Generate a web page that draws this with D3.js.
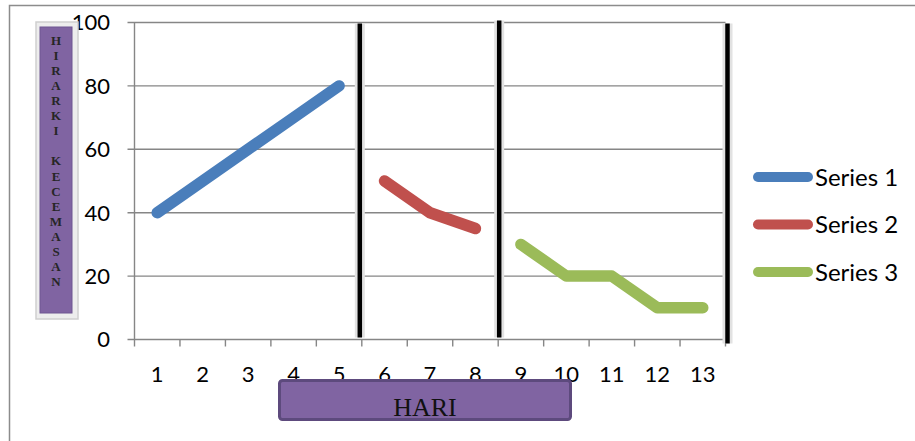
<!DOCTYPE html>
<html>
<head>
<meta charset="utf-8">
<script src="https://cdn.jsdelivr.net/npm/d3@7"></script>
<style>
  html, body { margin: 0; padding: 0; background: #fff; }
  svg { display: block; }
</style>
</head>
<body>
<svg id="chart" width="915" height="441"></svg>
<script>
// Days on the horizontal axis
const categories = ["1","2","3","4","5","6","7","8","9","10","11","12","13"];
// Anxiety hierarchy per phase (each series covers its own days)
const series1 = [ {day:"1",v:40},{day:"2",v:50},{day:"3",v:60},{day:"4",v:70},{day:"5",v:80} ];
const series2 = [ {day:"6",v:50},{day:"7",v:40},{day:"8",v:35} ];
const series3 = [ {day:"9",v:30},{day:"10",v:20},{day:"11",v:20},{day:"12",v:10},{day:"13",v:10} ];
const seriesNames = ["Series 1","Series 2","Series 3"];
const yTicks = [0,20,40,60,80,100];
// Phase separators sit after these days
const phaseEnds = ["5","8","13"];
const yTitle = "HIRARKI KECEMASAN";
const xTitle = "HARI";

const colors = ["#4A7EBB","#C0504D","#9BBB59"];
const svg = d3.select("#chart");

const plot = {left: 134.5, right: 725.5, top: 22.5, bottom: 339.5};
const x = d3.scaleBand().domain(categories).range([plot.left, plot.right]).padding(0);
const y = d3.scaleLinear().domain([0,100]).range([plot.bottom, plot.top]);
const cx = d => x(d) + x.bandwidth()/2;

// outer frame (left and top edges)
svg.append("path").attr("d","M9.5,441V5.5H915")
  .attr("fill","none").attr("stroke","#8c8c8c").attr("stroke-width",1.5);

// gridlines + y ticks
const gridG = svg.append("g");
yTicks.forEach(t => {
  gridG.append("line")
    .attr("x1", plot.left - 7).attr("x2", plot.right)
    .attr("y1", y(t)).attr("y2", y(t))
    .attr("stroke","#868686").attr("stroke-width",1.4);
});
// y axis line
gridG.append("line").attr("x1",plot.left).attr("x2",plot.left)
  .attr("y1",plot.top).attr("y2",plot.bottom)
  .attr("stroke","#868686").attr("stroke-width",1.4);
// x tick marks at category boundaries
const bounds = categories.map(c => x(c)).concat([x(categories[categories.length-1]) + x.bandwidth()]);
bounds.forEach(b => {
  gridG.append("line").attr("x1",b).attr("x2",b)
    .attr("y1",plot.bottom).attr("y2",plot.bottom + 7)
    .attr("stroke","#868686").attr("stroke-width",1.4);
});

// y tick labels
svg.append("g").selectAll("text").data(yTicks).join("text")
  .attr("x",110).attr("y",d => y(d)).attr("dy","0.36em")
  .attr("text-anchor","end")
  .attr("font-family","Lato, 'Open Sans', sans-serif").attr("font-size",22)
  .attr("fill","#000").text(d => d);

// x tick labels
svg.append("g").selectAll("text").data(categories).join("text")
  .attr("x",d => cx(d)).attr("y",382)
  .attr("text-anchor","middle")
  .attr("font-family","Lato, 'Open Sans', sans-serif").attr("font-size",22)
  .attr("fill","#000").text(d => d);

// phase separators (hand-drawn look: each one sits a little off the boundary)
const sepG = svg.append("g");
const sepNudge = [-2, 1, 2];
phaseEnds.forEach((d,i) => {
  const xp = x(d) + x.bandwidth() + sepNudge[i];
  const top = plot.top + (i === 1 ? -2 : 1);
  const bot = plot.bottom + (i === 2 ? 4 : -2);
  sepG.append("line").attr("x1",xp).attr("x2",xp).attr("y1",top).attr("y2",bot)
    .attr("stroke","#e2e2e2").attr("stroke-width",10);
  sepG.append("line").attr("x1",xp).attr("x2",xp).attr("y1",top).attr("y2",bot)
    .attr("stroke","#000").attr("stroke-width",4.5);
});

// series lines
const line = d3.line().x(d => cx(d.day)).y(d => y(d.v));
[series1, series2, series3].forEach((s,i) => {
  svg.append("path").datum(s).attr("d", line)
    .attr("fill","none").attr("stroke",colors[i]).attr("stroke-width",11.5)
    .attr("stroke-linecap","round").attr("stroke-linejoin","round");
});

// legend
const legG = svg.append("g");
seriesNames.forEach((n,i) => {
  const ly = 177 + i*47.5;
  legG.append("line").attr("x1",758).attr("x2",808).attr("y1",ly).attr("y2",ly)
    .attr("stroke",colors[i]).attr("stroke-width",10).attr("stroke-linecap","round");
  legG.append("text").attr("x",815).attr("y",ly).attr("dy","0.36em")
    .attr("font-family","Lato, 'Open Sans', sans-serif").attr("font-size",24)
    .attr("fill","#000").text(n);
});

// vertical axis title box
const yt = svg.append("g");
yt.append("rect").attr("x",36).attr("y",22).attr("width",42).attr("height",297)
  .attr("fill","#ededed").attr("stroke","#cfcfcf").attr("stroke-width",1.5);
yt.append("rect").attr("x",40).attr("y",27).attr("width",32).attr("height",286)
  .attr("fill","#8064A2").attr("stroke","#6f5792").attr("stroke-width",1);
Array.from(yTitle).forEach((ch,i) => {
  yt.append("text").attr("x",56).attr("y",40 + i*15.1).attr("dy","0.36em")
    .attr("text-anchor","middle")
    .attr("font-family","'Liberation Serif', serif").attr("font-weight","bold")
    .attr("font-size",13).attr("fill","#262626").text(ch);
});

// horizontal axis title box
const xt = svg.append("g");
xt.append("rect").attr("x",279.5).attr("y",380.5).attr("width",291).attr("height",39)
  .attr("rx",3).attr("fill","#8064A2").attr("stroke","#5D4A7D").attr("stroke-width",3);
xt.append("text").attr("x",425).attr("y",416).attr("text-anchor","middle")
  .attr("font-family","'Liberation Serif', serif").attr("font-size",26)
  .attr("fill","#111").text(xTitle);
</script>
</body>
</html>
